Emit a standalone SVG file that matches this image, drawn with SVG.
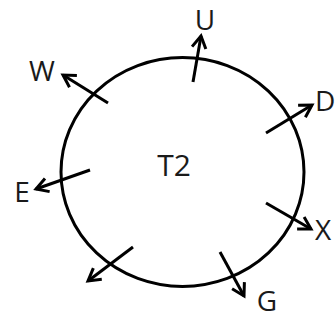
<svg xmlns="http://www.w3.org/2000/svg" width="336" height="320" viewBox="0 0 336 320">
<style>
.ln{stroke:#000;stroke-width:3;fill:none;stroke-linecap:butt}
.lb{font-family:"Open Sans","DejaVu Sans",sans-serif;font-size:28px;fill:#1a1a1a}
.tc{font-size:30px}
</style>
<defs>
<marker id="ah" viewBox="0 0 12 12" refX="10" refY="6" markerWidth="12" markerHeight="12" markerUnits="userSpaceOnUse" orient="auto" overflow="visible">
<path d="M-2,-1 L10,6 L-2,13" fill="none" stroke="#000" stroke-width="3"/>
</marker>
</defs>
<rect width="336" height="320" fill="#fff"/>
<g id="T2">
<ellipse cx="182.5" cy="172" rx="121.5" ry="114.5" class="ln"/>
<text x="174" y="176" text-anchor="middle" class="lb tc">T2</text>
</g>
<g id="connectors">
<line x1="193" y1="82" x2="201" y2="36" class="ln" marker-end="url(#ah)"/>
<line x1="108" y1="103" x2="63" y2="75" class="ln" marker-end="url(#ah)"/>
<line x1="266" y1="133" x2="312" y2="105" class="ln" marker-end="url(#ah)"/>
<line x1="90" y1="170" x2="36" y2="189" class="ln" marker-end="url(#ah)"/>
<line x1="266" y1="203" x2="311" y2="229" class="ln" marker-end="url(#ah)"/>
<line x1="133" y1="247" x2="88" y2="281" class="ln" marker-end="url(#ah)"/>
<line x1="220" y1="252" x2="244" y2="296" class="ln" marker-end="url(#ah)"/>
</g>
<g id="U"><text x="205" y="30" text-anchor="middle" class="lb">U</text></g>
<g id="W"><text x="42" y="81" text-anchor="middle" class="lb">W</text></g>
<g id="D"><text x="315" y="111" class="lb">D</text></g>
<g id="E"><text x="22" y="202" text-anchor="middle" class="lb">E</text></g>
<g id="X"><text x="323" y="240" text-anchor="middle" class="lb">X</text></g>
<g id="G"><text x="267" y="311" text-anchor="middle" class="lb">G</text></g>
</svg>
